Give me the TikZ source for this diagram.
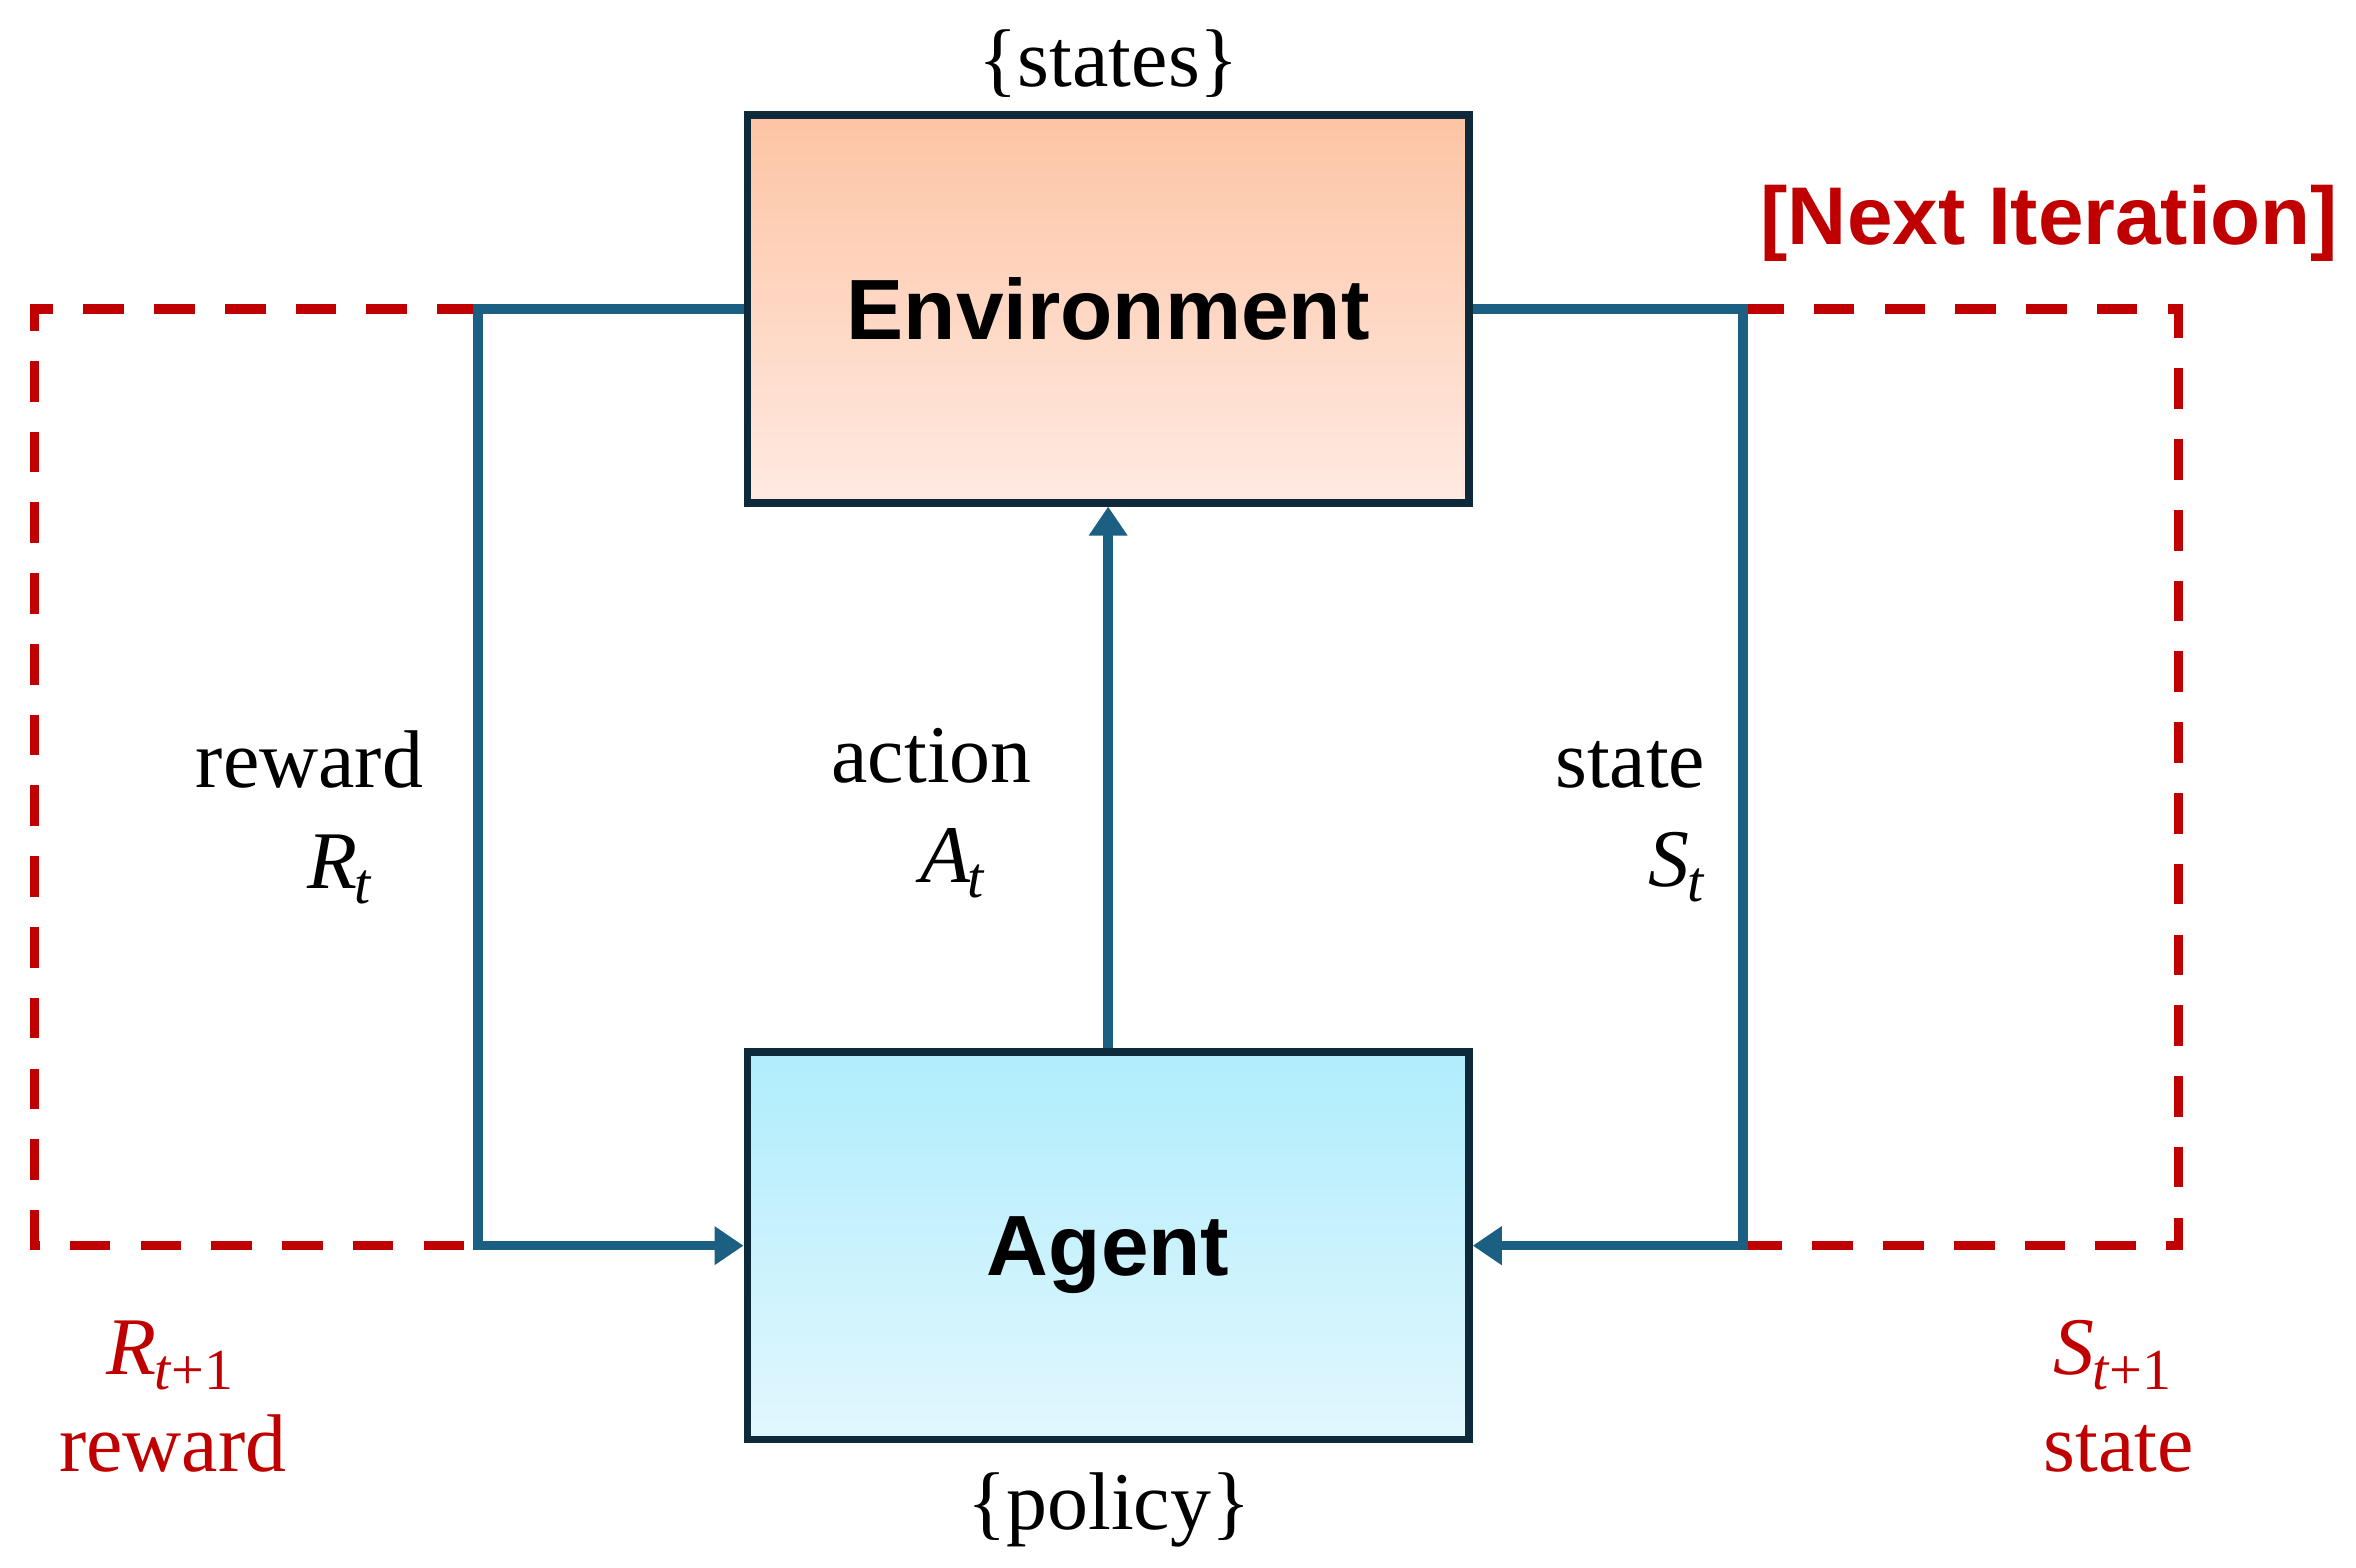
\documentclass[tikz,border=0pt]{standalone}
\usepackage{fontspec}
\setmainfont{Liberation Serif}
\setsansfont{Liberation Sans}
\usetikzlibrary{arrows.meta}
\definecolor{flowblue}{HTML}{1B5F82}
\definecolor{boxline}{HTML}{0E2A3A}
\definecolor{iterred}{HTML}{C00000}
\definecolor{envtop}{HTML}{FDC4A4}
\definecolor{envbot}{HTML}{FFEAE2}
\definecolor{agtop}{HTML}{B0EDFC}
\definecolor{agbot}{HTML}{E2F7FE}
\newcommand{\rlSub}[2]{\textit{#1}\kern-0.03em\raisebox{-0.4ex}{\fontsize{11}{11}\selectfont #2}}
\newcommand{\rlT}{\textit{t}}

\begin{document}
\begin{tikzpicture}[
    every node/.style={font=\fontsize{15.5}{18}\selectfont, inner sep=0pt},
    block/.style={draw=boxline, line width=1.5pt, minimum width=4.8cm, minimum height=2.58cm,
      text depth=0pt, font=\sffamily\bfseries\fontsize{16.2}{19}\selectfont},
    flow/.style={draw=flowblue, line width=1.8pt},
    flowtip/.style={-{Triangle[length=5.5pt,width=7pt]}},
    iterline/.style={draw=iterred, line width=1.8pt, dash pattern=on 7.7pt off 5.7pt}]
      \useasboundingbox (0,0) rectangle (15.68,-10.435);
      \node[block, top color=envtop, bottom color=envbot] (env) at (7.375,-2.055) {Environment};
      \node[block, top color=agtop, bottom color=agbot] (agent) at (7.375,-8.29) {Agent};
      \coordinate (lx) at (3.18,0);
      \coordinate (rx) at (11.6,0);
      \coordinate (ldash) at (0.23,0);
      \coordinate (rdash) at (14.5,0);
      \draw[iterline] (env.west -| lx) -- (env.west -| ldash) -- (agent.west -| ldash) -- (agent.west -| lx);
      \draw[iterline] (env.east -| rx) -- (env.east -| rdash) -- (agent.east -| rdash) -- (agent.east -| rx);
      \draw[flow, flowtip] (env.west) -- (env.west -| lx) -- (agent.west -| lx) -- (agent.west);
      \draw[flow, flowtip] (env.east) -- (env.east -| rx) -- (agent.east -| rx) -- (agent.east);
      \draw[flow, flowtip] (agent.north) -- (env.south);
      \node (states) at (7.38,-0.42) {\{states\}};
      \node (policy) at (7.38,-10.05) {\{policy\}};
      \node[text=iterred, font=\sffamily\bfseries\fontsize{15.5}{18}\selectfont] (next) at (13.64,-1.485) {[Next Iteration]};
      \node[anchor=base] (rewl) at (2.06,-5.24) {reward};
      \node[anchor=base] (rewv) at (2.26,-5.91) {\rlSub{R}{\rlT}};
      \node[anchor=base] (actl) at (6.2,-5.21) {action};
      \node[anchor=base] (actv) at (6.34,-5.87) {\rlSub{A}{\rlT}};
      \node[anchor=base] (stal) at (10.85,-5.24) {state};
      \node[anchor=base] (stav) at (11.16,-5.90) {\rlSub{S}{\rlT}};
      \node[anchor=base, text=iterred] (nrewv) at (1.13,-9.15) {\rlSub{R}{\rlT+1}};
      \node[anchor=base, text=iterred] (nrewl) at (1.15,-9.79) {reward};
      \node[anchor=base, text=iterred] (nstav) at (14.06,-9.15) {\rlSub{S}{\rlT+1}};
      \node[anchor=base, text=iterred] (nstal) at (14.1,-9.79) {state};
\end{tikzpicture}
\end{document}
